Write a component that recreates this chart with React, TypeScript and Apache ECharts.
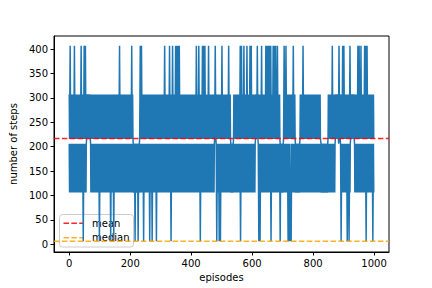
import React, { useEffect, useRef } from "react";
import * as echarts from "echarts";

// Step levels (codes used in the episode strings below)
const LEVELS: Record<string, number> = { a: 407, b: 307, c: 216, d: 206, e: 106, f: 6 };

// Upper trace of the number of steps, 50 episodes per row
const UPPER_ROWS: string[] = [
  "bcbabcbcbc" + "bcbcbcbabc" + "bcbcbccbcb" + "cbcbcbccba" + "bcbcbcbcba",
  "bcbabcbcbc" + "bcbcbcbcbc" + "bcbbcbcbcb" + "cbcbcbcbcb" + "cbcbccbcbc",
  "bcbcbcbcbc" + "bcbcbbcbcb" + "cbcbcbcbcb" + "cbcbcbcbcc" + "bcbcbcbcbc",
  "bcbcbcbcbc" + "bcbcbabcbc" + "bcbcbcbcbc" + "bcbccbcbcb" + "cbcbcbcbcb",
  "cbccbabcbc" + "dedededede" + "dedededede" + "dcbabcbabc" + "bcbcbcbcbc",
  "bcbcbcbcbc" + "bcbcbcbbcb" + "cbcbcbcbcb" + "cbccbcbcbc" + "bcbcbcbcbc",
  "bcbcbcbcbc" + "bcbabcbcbc" + "bcbcbcbcba" + "bcbcbcbcba" + "bcbcbcbcba",
  "bcbabcbabc" + "babcbcbcbc" + "bcbcbccbcb" + "cbcbcbcbcb" + "cbcbcbcbcb",
  "cbcbcbcbcb" + "cbcbccbabc" + "bcbcbabcbc" + "bcbcbcbabc" + "babcbabcbc",
  "bcbcbcbabc" + "bcbcbcbcbc" + "bcbcbcbcba" + "bcbcbcbcbc" + "bcbcbcbcbc",
  "babcbcbcbc" + "bcbcbccbcb" + "ccbabcbcbc" + "dededededc" + "bcbcbcbcbc",
  "bcbcbcbcbc" + "babcbabcbc" + "bcbabcbcbc" + "bcbabcbcbc" + "bcbabcbabc",
  "bcbcbcbcbc" + "bcbcbcbabc" + "bcbcbcbcbc" + "babcbcbcbc" + "bcbcbabcba",
  "bcbabcbabc" + "babcbcbcba" + "bcbabcbabc" + "bcbabcbcbc" + "bcdededede",
  "dedcbabcbc" + "babcbcbcbc" + "bcbcbcbcbc" + "bcbcbabcbc" + "bcdededede",
  "dedededcbc" + "bcbcbcbabc" + "bcbcbcbcbc" + "bccbcbcbcb" + "cbcbcbcbcb",
  "cbcbcbcbcb" + "cbcbcbcbcb" + "cbcbccdede" + "dedededede" + "dededededc",
  "bcbcbcbcbc" + "bcbabcbcbc" + "bcbcbcbcbc" + "bcbcbabcbc" + "bcbcbcbabc",
  "babcbcbcbc" + "bcbcbcbcbc" + "babcbcbcbc" + "bcbcbccbcb" + "cbcbccbabc",
  "babcbcbabc" + "bcbcbcbcba" + "bcbabcbabc" + "bcbcbcbcbc" + "bcbcbcbcbc",
];

// Lower trace of the number of steps, 50 episodes per row
const LOWER_ROWS: string[] = [
  "dedededede" + "dedeededed" + "ededededed" + "ededededed" + "ededdefede",
  "dedededcbc" + "bcbcbcbcbc" + "dedededede" + "dedededede" + "dedededdef",
  "ededededed" + "ededededed" + "edeededede" + "dededefede" + "dededefede",
  "dededededd" + "ededededed" + "ededededed" + "eedededede" + "dedededede",
  "dedededede" + "dededefede" + "dededefede" + "dedededede" + "dedefedede",
  "dedededede" + "dedefedede" + "defededede" + "dededefede" + "dedeededed",
  "ededededed" + "ededededed" + "ededededed" + "eddefedede" + "dedededede",
  "dedeededed" + "ededededed" + "ededededed" + "ededdedede" + "dedededede",
  "dedededede" + "dedededede" + "dedededede" + "fedededede" + "dedededede",
  "dedededede" + "dedededede" + "dedededcbc" + "bcdefedede" + "defedefede",
  "dedededede" + "dedeededed" + "ededededed" + "ededededed" + "ededededed",
  "ededededed" + "defededede" + "dedededede" + "dedededede" + "dedededede",
  "dedededede" + "dcbcbcbcbc" + "defedefede" + "dedededede" + "dedeededed",
  "ededededed" + "defededede" + "dedededede" + "dedededede" + "defededede",
  "dedededede" + "dedededefe" + "defedefefe" + "dedededede" + "dedededede",
  "dedededede" + "dedeededed" + "ededededed" + "ededededed" + "ededededed",
  "ededededed" + "eddededede" + "dedededede" + "dedededede" + "dedededede",
  "dedededede" + "dedededede" + "dedcbcbcbc" + "bcbcdcbcbc" + "defededede",
  "dedededede" + "defededefe" + "dedcbcbcbc" + "bcbcbcdede" + "dedededede",
  "dedededede" + "dedeededed" + "eddefedede" + "dedededede" + "dededefede",
];

const MEAN = 217;
const MEDIAN = 6;

const X_MIN = -50;
const X_MAX = 1049;
const Y_MIN = -16;
const Y_MAX = 427;

const X_TICKS = [0, 200, 400, 600, 800, 1000];
const Y_TICKS = [0, 50, 100, 150, 200, 250, 300, 350, 400];

const LEGEND_NAMES = ["mean", "median"];
const LEGEND_COLORS = ["rgba(255,0,0,0.85)", "rgba(255,165,0,0.85)"];

const FONT = "DejaVu Sans";

function decode(rows: string[]): [number, number][] {
  const codes = rows.join("");
  const out: [number, number][] = [];
  for (let i = 0; i < codes.length; i++) out.push([i, LEVELS[codes[i]]]);
  return out;
}

export default function App() {
  const ref = useRef<HTMLDivElement>(null);

  useEffect(() => {
    if (!ref.current) return;
    const chart = echarts.init(ref.current, undefined, { renderer: "svg" });

    const upper = decode(UPPER_ROWS);
    const lower = decode(LOWER_ROWS);

    const dash = [5.5, 2.4];
    const blue = "#1f77b4";

    const legendLeft = 59;
    const legendTop = 214;
    const rowY = [8.7, 23.3];

    const stepSeries = (name: string, data: [number, number][]) => ({
      name,
      type: "line",
      data,
      symbol: "none",
      showSymbol: false,
      sampling: "none",
      lineStyle: { color: blue, width: 1.5, join: "miter", cap: "butt" },
      itemStyle: { color: blue },
      z: 2,
    });

    chart.setOption({
      animation: false,
      backgroundColor: "#ffffff",
      textStyle: { fontFamily: FONT },
      grid: {
        left: 54,
        right: 43,
        top: 36,
        bottom: 36,
        show: true,
        borderColor: "#000",
        borderWidth: 1,
        backgroundColor: "transparent",
        containLabel: false,
        outerBoundsMode: "none",
      },
      xAxis: {
        type: "value",
        min: X_MIN,
        max: X_MAX,
        name: "episodes",
        nameLocation: "middle",
        nameGap: 20,
        nameTextStyle: { fontFamily: FONT, fontSize: 10, color: "#000" },
        splitLine: { show: false },
        axisLine: { show: true, onZero: false, lineStyle: { color: "#000", width: 1 } },
        axisTick: { show: true, length: 3.5, lineStyle: { color: "#000" }, customValues: X_TICKS },
        axisLabel: {
          fontFamily: FONT,
          fontSize: 10,
          color: "#000",
          margin: 6,
          customValues: X_TICKS,
          formatter: (v: number) => String(v),
        },
      },
      yAxis: {
        type: "value",
        min: Y_MIN,
        max: Y_MAX,
        name: "number of steps",
        nameLocation: "middle",
        nameGap: 28,
        nameTextStyle: { fontFamily: FONT, fontSize: 10, color: "#000" },
        splitLine: { show: false },
        axisLine: { show: true, onZero: false, lineStyle: { color: "#000", width: 1 } },
        axisTick: { show: true, length: 3.5, lineStyle: { color: "#000" }, customValues: Y_TICKS },
        axisLabel: {
          fontFamily: FONT,
          fontSize: 10,
          color: "#000",
          margin: 6,
          customValues: Y_TICKS,
          formatter: (v: number) => String(v),
        },
      },
      series: [
        stepSeries("steps upper", upper),
        stepSeries("steps lower", lower),
        {
          name: LEGEND_NAMES[0],
          type: "line",
          data: [
            [X_MIN, MEAN],
            [X_MAX, MEAN],
          ],
          symbol: "none",
          lineStyle: { color: LEGEND_COLORS[0], width: 1.5, type: dash },
          z: 3,
        },
        {
          name: LEGEND_NAMES[1],
          type: "line",
          data: [
            [X_MIN, MEDIAN],
            [X_MAX, MEDIAN],
          ],
          symbol: "none",
          lineStyle: { color: LEGEND_COLORS[1], width: 1.5, type: dash },
          z: 3,
        },
      ],
      graphic: [
        {
          type: "group",
          left: legendLeft,
          top: legendTop,
          z: 100,
          children: [
            {
              type: "rect",
              shape: { x: 0, y: 0, width: 74, height: 32.5, r: 3 },
              style: { fill: "rgba(255,255,255,0.8)", stroke: "#cccccc", lineWidth: 1 },
            },
            ...LEGEND_NAMES.flatMap((name, i) => [
              {
                type: "line",
                shape: { x1: 4, y1: rowY[i], x2: 24, y2: rowY[i] },
                style: { stroke: LEGEND_COLORS[i], lineWidth: 1.5, lineDash: dash },
              },
              {
                type: "text",
                x: 32.5,
                y: rowY[i],
                style: {
                  text: name,
                  fontFamily: FONT,
                  fontSize: 10,
                  fill: "#000",
                  verticalAlign: "middle",
                  align: "left",
                },
              },
            ]),
          ],
        },
      ],
    });

    return () => chart.dispose();
  }, []);

  return (
    <div
      ref={ref}
      style={{ position: "absolute", left: 0, top: 0, width: 432, height: 288, background: "#fff" }}
    />
  );
}
